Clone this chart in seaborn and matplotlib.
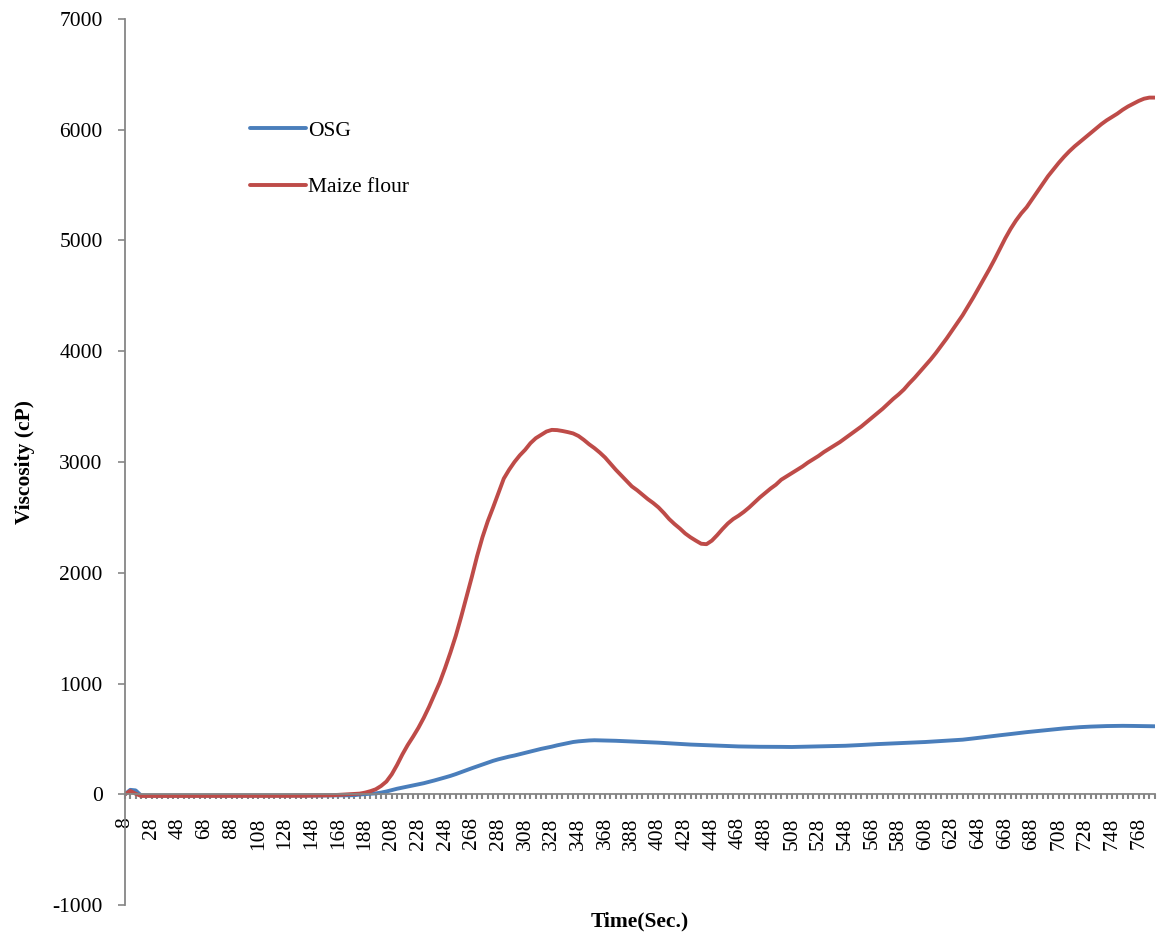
import numpy as np
import pandas as pd
import matplotlib
matplotlib.use("Agg")
import matplotlib.pyplot as plt
from matplotlib.ticker import FixedLocator, FixedFormatter
import seaborn as sns

# Time axis: readings every 4 s from 8 s to 780 s
time_s = list(range(8, 784, 4))

# Maize flour viscosity (cP)
maize_flour = [
    0, 30, 5, -15, -15, -15, -15, -15, -15, -15,
    -15, -15, -14, -15, -15, -14, -15, -15, -14, -15,
    -14, -15, -15, -14, -15, -15, -14, -15, -14, -14,
    -14, -14, -13, -14, -13, -12, -12, -11, -10, -8,
    -5, -2, 0, 3, 6, 15, 28, 45, 75, 115,
    180, 265, 360, 445, 520, 600, 690, 790, 900, 1010,
    1140, 1280, 1430, 1600, 1780, 1960, 2150, 2320, 2465, 2590,
    2720, 2850, 2930, 3000, 3060, 3110, 3170, 3215, 3245, 3275,
    3290, 3288, 3280, 3270, 3258, 3235, 3200, 3160, 3125, 3085,
    3040, 2985, 2930, 2880, 2830, 2780, 2745, 2705, 2665, 2630,
    2590, 2540, 2485, 2440, 2400, 2355, 2320, 2290, 2262, 2258,
    2290, 2340, 2395, 2445, 2485, 2515, 2550, 2590, 2635, 2680,
    2720, 2760, 2795, 2840, 2870, 2900, 2930, 2960, 2995, 3025,
    3055, 3090, 3120, 3150, 3180, 3215, 3250, 3285, 3320, 3360,
    3400, 3440, 3480, 3525, 3570, 3610, 3655, 3710, 3760, 3815,
    3870, 3925, 3985, 4050, 4115, 4185, 4255, 4325, 4405, 4485,
    4570, 4655, 4740, 4830, 4925, 5020, 5105, 5180, 5245, 5300,
    5370, 5440, 5510, 5580, 5640, 5700, 5755, 5805, 5850, 5890,
    5930, 5970, 6010, 6050, 6085, 6115, 6145, 6180, 6210, 6235,
    6260, 6280, 6290, 6290,
]

# OSG viscosity (cP)
osg = [
    0, 40, 35, -10, -12, -12, -12, -12, -12, -12,
    -12, -12, -12, -12, -12, -12, -12, -12, -12, -12,
    -12, -12, -12, -12, -12, -12, -12, -12, -12, -12,
    -12, -12, -12, -11, -12, -12, -11, -11, -10, -10,
    -10, -9, -9, -8, -2, 2, 5, 8, 15, 25,
    38, 50, 60, 70, 80, 90, 100, 112, 125, 138,
    152, 166, 182, 200, 218, 235, 252, 268, 285, 302,
    316, 328, 340, 350, 362, 374, 386, 398, 410, 420,
    430, 442, 452, 462, 472, 478, 482, 486, 488, 487,
    486, 485, 483, 481, 479, 477, 475, 473, 471, 468,
    466, 463, 460, 457, 455, 452, 449, 447, 444, 442,
    440, 438, 436, 434, 433, 432, 431, 430, 430, 429,
    429, 428, 428, 428, 427, 427, 428, 428, 429, 430,
    431, 432, 433, 434, 436, 438, 440, 443, 445, 448,
    451, 453, 455, 457, 459, 461, 463, 465, 467, 469,
    472, 475, 478, 481, 484, 486, 489, 493, 498, 504,
    510, 516, 522, 528, 533, 538, 544, 550, 556, 561,
    566, 571, 576, 581, 586, 590, 595, 599, 603, 606,
    609, 611, 613, 615, 616, 617, 618, 618, 618, 617,
    616, 615, 614, 614,
]

series_names = ["OSG", "Maize flour"]
series_colors = ["#4A7EBB", "#BE4B48"]
y_ticks = list(range(-1000, 8000, 1000))
x_label_every = 5

df = pd.DataFrame({
    "Time": time_s * 2,
    "Viscosity": osg + maize_flour,
    "Sample": [series_names[0]] * len(osg) + [series_names[1]] * len(maize_flour),
})

sns.set_style("white")
plt.rcParams["font.family"] = ["Liberation Serif", "DejaVu Serif"]
plt.rcParams["text.color"] = "black"
plt.rcParams["xtick.labelcolor"] = "black"
plt.rcParams["ytick.labelcolor"] = "black"

axis_grey = "#868686"
fs = 15.5
lw = 2.8

fig = plt.figure(figsize=(11.57, 9.34), dpi=100)
ax = fig.add_axes([0.108, 0.031, 0.890, 0.9487])

sns.lineplot(
    data=df, x="Time", y="Viscosity", hue="Sample",
    hue_order=series_names, palette=series_colors,
    linewidth=lw, ax=ax, legend=True,
)

ax.set_xlim(time_s[0], time_s[-1])
ax.set_ylim(-1000, 7000)
ax.yaxis.set_major_locator(FixedLocator(y_ticks))
ax.yaxis.set_major_formatter(FixedFormatter([str(v) for v in y_ticks]))

# a tick mark at every reading, a label at every fifth one
ax.xaxis.set_major_locator(FixedLocator(time_s))
ax.xaxis.set_major_formatter(FixedFormatter(
    [str(t) if i % x_label_every == 0 else "" for i, t in enumerate(time_s)]
))

for side in ("top", "right"):
    ax.spines[side].set_visible(False)
ax.spines["bottom"].set_position(("data", 0))
for side in ("left", "bottom"):
    ax.spines[side].set_color(axis_grey)
    ax.spines[side].set_linewidth(1.3)

ax.tick_params(axis="y", direction="out", length=5, width=1.2,
               color=axis_grey, pad=11, left=True, labelsize=fs,
               labelcolor="black")
ax.tick_params(axis="x", direction="out", length=3.5, width=1.5,
               color=axis_grey, pad=13, bottom=True, labelsize=fs,
               labelrotation=90, labelcolor="black")

ax.set_xlabel("")
ax.set_ylabel("")
fig.text(0.553, 0.0135, "Time(Sec.)", ha="center", va="center",
         fontsize=fs, fontweight="bold", color="black")
fig.text(0.0215, 0.505, "Viscosity (cP)", ha="center", va="center",
         rotation=90, fontsize=fs, fontweight="bold", color="black")

leg = ax.legend(
    loc="upper left", bbox_to_anchor=(0.216, 0.871),
    bbox_transform=fig.transFigure, frameon=False,
    fontsize=fs, handlelength=2.6, handletextpad=0.12, labelspacing=1.7,
    borderpad=0, borderaxespad=0,
)
for line in leg.get_lines():
    line.set_linewidth(lw)
for text in leg.get_texts():
    text.set_color("black")

fig.savefig("out.png", dpi=100)
